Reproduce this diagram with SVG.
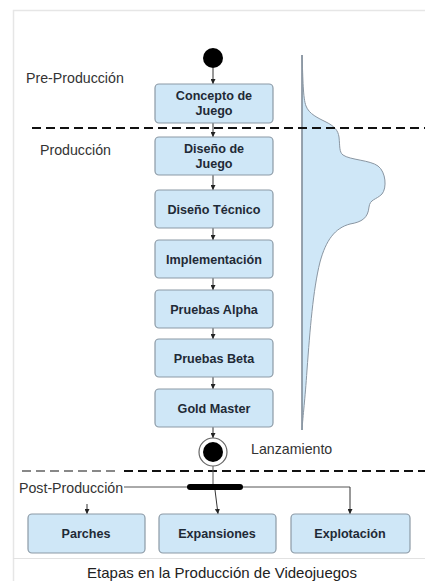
<svg xmlns="http://www.w3.org/2000/svg" width="425" height="581" viewBox="0 0 425 581">
  <defs>
    <marker id="ah" viewBox="0 0 6 6" refX="6" refY="3" markerWidth="5" markerHeight="5" orient="auto">
      <path d="M0,0 L6,3 L0,6 z" fill="#222"/>
    </marker>
    <style>
      .box { fill: #cfe7f7; stroke: #8c9aa6; stroke-width: 1.2; }
      .bt { font-family: "Liberation Sans", Arial, sans-serif; font-weight: bold; font-size: 12.6px; fill: #1f2a36; text-anchor: middle; }
      .lbl { font-family: "Liberation Sans", Arial, sans-serif; font-size: 14.2px; fill: #333; }
      .cn { stroke: #333; stroke-width: 1; fill: none; marker-end: url(#ah); }
      .ln { stroke: #555; stroke-width: 1; fill: none; }
      .dash { stroke: #111; stroke-width: 2.2; stroke-dasharray: 9 5; fill: none; }
    </style>
  </defs>

  <rect width="425" height="581" fill="#fff"/>
  <!-- frame -->
  <path d="M13.5,581 V10.5 H425" fill="none" stroke="#e6e6e6" stroke-width="1.5"/>
  <line x1="13" y1="558.5" x2="425" y2="558.5" stroke="#e2e2e2" stroke-width="1.2"/>

  <!-- effort curve -->
  <g id="effort-curve">
    <path d="M302,55 C303,80 303,98 306,106 C309,114 318,118 326,122 C334,126 338,130 339,137 C340,146 339,152 343,155 C350,160 370,160 378,166 C386,172 387,188 382,194 C376,200 370,199 369,207 C368,218 362,222 350,224 C335,228 326,240 320,262 C313,290 310,330 307,370 C305,400 303,415 302,430 Z" fill="#cfe7f7" stroke="#8a96a2" stroke-width="1"/>
    <line x1="302" y1="55" x2="302" y2="430" stroke="#8a96a2" stroke-width="1.5"/>
  </g>

  <!-- phase separators -->
  <line class="dash" x1="32" y1="128" x2="425" y2="128"/>
  <line x1="22" y1="471" x2="120" y2="471" stroke="#888" stroke-width="2" stroke-dasharray="9 5"/>
  <line class="dash" x1="124" y1="471" x2="425" y2="471"/>

  <!-- phase labels -->
  <text class="lbl" x="26" y="83">Pre-Producción</text>
  <text class="lbl" x="40" y="155">Producción</text>
  <text class="lbl" x="251" y="454">Lanzamiento</text>
  <text class="lbl" x="19" y="493">Post-Producción</text>

  <!-- connectors -->
  <g id="connectors">
    <line class="cn" x1="213" y1="68" x2="213" y2="84"/>
    <line class="cn" x1="213" y1="123" x2="213" y2="137"/>
    <line class="cn" x1="213" y1="175" x2="213" y2="190"/>
    <line class="cn" x1="213" y1="228" x2="213" y2="240"/>
    <line class="cn" x1="213" y1="278" x2="213" y2="290"/>
    <line class="cn" x1="213" y1="328" x2="213" y2="339"/>
    <line class="cn" x1="213" y1="377" x2="213" y2="389"/>
    <line class="cn" x1="213" y1="427" x2="213" y2="438"/>
    <line class="ln" x1="213" y1="466" x2="213" y2="485"/>
    <polyline class="ln" points="124,487 350,487"/>
    <line class="cn" x1="350" y1="487" x2="350" y2="514"/>
    <line class="cn" x1="215" y1="490" x2="218" y2="514"/>
    <line class="cn" x1="87" y1="504" x2="87" y2="514"/>
  </g>

  <!-- start / end states -->
  <g id="start"><circle cx="213" cy="58" r="10" fill="#000"/></g>
  <g id="lanzamiento">
    <circle cx="213" cy="452" r="14" fill="#fff" stroke="#666" stroke-width="1.2"/>
    <circle cx="213" cy="452" r="10" fill="#000"/>
  </g>
  <g id="fork"><rect x="187" y="484" width="56" height="6" rx="3" fill="#000"/></g>

  <!-- production nodes -->
  <g id="concepto">
    <rect class="box" x="155" y="84" width="118" height="39" rx="4"/>
    <text class="bt" x="214" y="100">Concepto de</text>
    <text class="bt" x="214" y="115">Juego</text>
  </g>
  <g id="diseno-juego">
    <rect class="box" x="155" y="137" width="118" height="38" rx="4"/>
    <text class="bt" x="214" y="153">Diseño de</text>
    <text class="bt" x="214" y="168">Juego</text>
  </g>
  <g id="diseno-tecnico">
    <rect class="box" x="155" y="190" width="118" height="38" rx="4"/>
    <text class="bt" x="214" y="214">Diseño Técnico</text>
  </g>
  <g id="implementacion">
    <rect class="box" x="155" y="240" width="118" height="38" rx="4"/>
    <text class="bt" x="214" y="264">Implementación</text>
  </g>
  <g id="alpha">
    <rect class="box" x="155" y="290" width="118" height="38" rx="4"/>
    <text class="bt" x="214" y="314">Pruebas Alpha</text>
  </g>
  <g id="beta">
    <rect class="box" x="155" y="339" width="118" height="38" rx="4"/>
    <text class="bt" x="214" y="363">Pruebas Beta</text>
  </g>
  <g id="gold-master">
    <rect class="box" x="155" y="389" width="118" height="38" rx="4"/>
    <text class="bt" x="214" y="413">Gold Master</text>
  </g>

  <!-- post-production nodes -->
  <g id="parches">
    <rect class="box" x="28" y="514" width="117" height="39" rx="4"/>
    <text class="bt" x="86" y="538">Parches</text>
  </g>
  <g id="expansiones">
    <rect class="box" x="159" y="514" width="117" height="39" rx="4"/>
    <text class="bt" x="217" y="538">Expansiones</text>
  </g>
  <g id="explotacion">
    <rect class="box" x="291" y="514" width="119" height="39" rx="4"/>
    <text class="bt" x="350" y="538">Explotación</text>
  </g>

  <!-- caption -->
  <text x="222" y="578" text-anchor="middle" font-family="'Liberation Sans', Arial, sans-serif" font-size="15" fill="#222">Etapas en la Producción de Videojuegos</text>
</svg>
